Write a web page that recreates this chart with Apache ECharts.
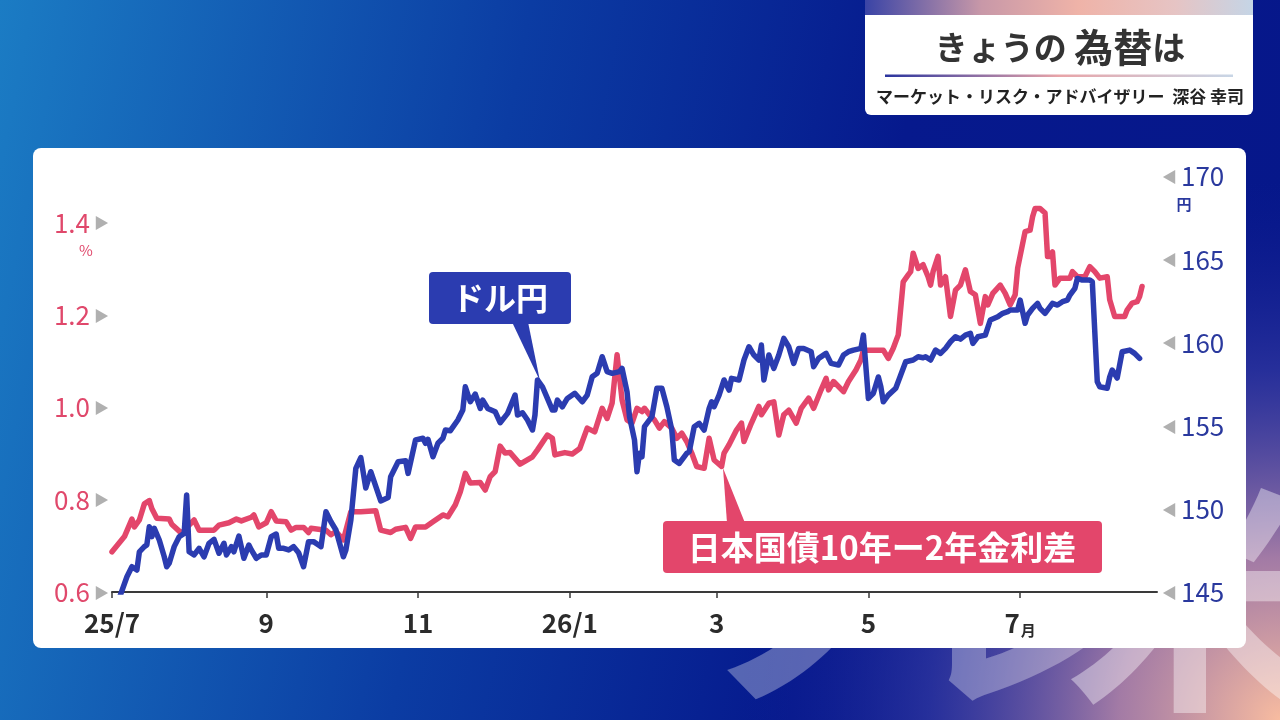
<!DOCTYPE html>
<html><head><meta charset="utf-8">
<script src="https://cdn.jsdelivr.net/npm/echarts@6/dist/echarts.min.js"></script>
<style>html,body{margin:0;padding:0;width:1280px;height:720px;overflow:hidden;background:#0a2a9a}#c{width:1280px;height:720px}</style>
</head><body><div id="c"></div>
<script>
// x = days since 2025-07-01
const xTickDays = [0, 62, 123, 184, 243, 304, 365];
const xTickLabels = ['25/7', '9', '11', '26/1', '3', '5', '7月'];
const spreadTicks = [0.6, 0.8, 1.0, 1.2, 1.4];
const yenMin = 145, yenMax = 170, yenStep = 5;

// 日本国債10年−2年金利差 (%): [day, value]
const spreadData = [
[0,0.687],[5,0.720],[8,0.758],[9,0.741],[11,0.756],[13,0.791],[15,0.798],[16,0.781],[18,0.760],[23,0.758],
[24,0.747],[28,0.727],[31,0.745],[33,0.756],[35,0.734],[41,0.734],[43,0.745],[47,0.750],[50,0.758],[52,0.754],
[56,0.762],[57,0.767],[59,0.741],[62,0.750],[64,0.774],[66,0.754],[70,0.752],[72,0.734],[74,0.740],[77,0.740],
[79,0.729],[80,0.738],[86,0.734],[88,0.724],[90,0.731],[93,0.713],[96,0.774],[100,0.774],[106,0.776],[108,0.734],
[112,0.729],[114,0.736],[118,0.740],[120,0.716],[122,0.741],[126,0.741],[129,0.752],[133,0.767],[135,0.763],[138,0.789],
[140,0.817],[142,0.857],[144,0.836],[148,0.837],[150,0.821],[152,0.850],[154,0.861],[156,0.916],[158,0.901],[160,0.902],
[164,0.877],[169,0.893],[171,0.908],[175,0.940],[177,0.933],[178,0.897],[182,0.902],[185,0.899],[188,0.911],[191,0.955],
[194,0.947],[197,0.998],[199,0.976],[201,1.009],[203,1.114],[205,1.016],[207,0.973],[209,0.966],[211,0.998],[213,0.991],
[214,0.998],[216,0.984],[218,0.973],[220,0.955],[222,0.969],[225,0.955],[227,0.933],[229,0.944],[231,0.926],[233,0.901],
[235,0.872],[238,0.868],[240,0.933],[242,0.886],[245,0.872],[246,0.901],[248,0.919],[251,0.951],[253,0.966],[254,0.926],
[257,0.966],[260,1.002],[261,0.984],[264,1.009],[266,1.012],[268,0.940],[270,0.984],[272,0.994],[275,0.966],[277,0.998],
[280,1.020],[282,0.998],[285,1.038],[287,1.063],[288,1.038],[290,1.056],[294,1.034],[296,1.056],[299,1.081],[301,1.103],
[302,1.124],[310,1.124],[312,1.106],[314,1.128],[316,1.157],[318,1.272],[320,1.287],[321,1.294],[322,1.334],[324,1.301],
[326,1.309],[328,1.283],[329,1.265],[330,1.294],[332,1.327],[333,1.265],[335,1.283],[337,1.197],[339,1.254],[341,1.265],
[343,1.298],[345,1.251],[347,1.244],[349,1.182],[351,1.240],[352,1.222],[354,1.247],[357,1.265],[359,1.247],[361,1.222],
[363,1.244],[364,1.302],[367,1.381],[369,1.384],[370,1.413],[371,1.431],[373,1.431],[375,1.421],[376,1.327],[377,1.327],
[378,1.337],[379,1.265],[381,1.280],[385,1.280],[386,1.294],[388,1.283],[391,1.283],[393,1.305],[395,1.294],[397,1.280],
[400,1.283],[401,1.233],[403,1.197],[407,1.197],[408,1.211],[410,1.226],[412,1.229],[413,1.240],[414,1.262]
];

// ドル円 (円): [day, value]
const usdjpyData = [
[0,143.4],[6,145.92],[8,146.52],[10,146.32],[11,147.42],[13,147.73],[14,147.83],[15,148.93],[16,148.33],[17,148.83],
[19,148.13],[21,147.12],[22,146.52],[23,146.73],[25,147.73],[27,148.33],[29,148.53],[30,150.84],[31,147.42],[33,147.23],
[35,147.63],[37,147.12],[39,147.93],[41,148.17],[43,147.33],[45,147.93],[46,147.23],[48,147.73],[49,147.42],[51,148.37],
[53,147.03],[55,147.83],[56,147.53],[58,147.03],[60,147.23],[62,147.23],[64,148.33],[66,148.49],[67,147.63],[69,147.63],
[71,147.53],[73,147.73],[75,147.36],[77,146.52],[79,148.03],[81,148.03],[83,147.83],[84,147.73],[86,149.83],[88,149.23],
[90,148.73],[93,147.12],[94,147.53],[96,149.33],[98,152.44],[100,153.09],[102,151.26],[104,152.24],[108,150.48],[111,150.69],
[112,151.94],[115,152.84],[118,152.90],[119,152.14],[122,154.15],[125,154.25],[126,153.95],[127,154.19],[129,153.14],[131,153.95],
[133,154.25],[134,154.75],[136,154.71],[139,155.35],[141,155.95],[142,157.35],[144,156.45],[146,156.91],[148,156.05],[149,156.55],
[151,156.05],[154,155.85],[156,155.19],[159,155.75],[162,156.85],[163,155.65],[165,155.79],[167,155.35],[169,154.75],[170,155.65],
[171,157.76],[173,157.35],[175,156.65],[177,155.95],[178,155.95],[179,156.55],[181,156.15],[183,156.65],[186,156.96],[189,156.45],
[191,156.85],[193,157.95],[195,158.16],[197,159.16],[199,158.26],[201,158.16],[204,158.26],[205,158.46],[207,157.05],[208,155.55],
[210,154.15],[211,152.24],[212,153.35],[213,153.14],[214,154.95],[217,155.55],[219,157.26],[221,157.26],[223,156.15],[225,154.75],
[226,152.94],[228,152.74],[231,153.35],[232,153.44],[234,154.95],[236,155.15],[238,154.75],[240,156.05],[241,156.45],[242,156.15],
[244,156.85],[246,157.76],[248,157.15],[249,157.86],[252,157.76],[254,158.96],[256,159.76],[258,159.26],[260,158.96],[261,159.86],
[262,157.76],[264,159.26],[266,158.46],[268,159.26],[270,160.26],[272,159.76],[274,158.76],[276,159.66],[278,159.66],[281,159.46],
[282,158.56],[284,159.06],[287,159.36],[289,158.76],[292,158.66],[294,159.26],[296,159.46],[298,159.56],[301,159.66],[302,160.46],
[304,156.65],[306,156.96],[308,157.94],[309,157.35],[310,156.45],[312,156.85],[315,157.26],[317,158.06],[319,158.86],[322,158.96],
[324,159.16],[326,159.10],[327,159.16],[329,158.96],[331,159.56],[333,159.36],[335,159.66],[337,160.06],[339,160.36],[341,160.22],
[343,160.46],[345,160.57],[346,159.96],[348,160.36],[351,160.46],[353,161.37],[356,161.56],[358,161.77],[360,161.87],[361,161.97],
[364,161.97],[365,162.57],[367,161.17],[368,161.67],[370,162.07],[372,162.37],[373,162.07],[375,161.77],[378,162.37],[380,162.27],
[382,162.47],[384,162.57],[385,162.87],[387,163.27],[388,163.87],[390,163.77],[393,163.77],[394,163.67],[396,157.65],[397,157.35],
[400,157.26],[401,157.95],[402,158.36],[404,157.88],[406,159.46],[409,159.56],[411,159.36],[413,159.06]
];

const RED = '#e3466b';
const BLUE = '#2b3cb0';
const FONT = "'Noto Sans CJK JP','Noto Sans',sans-serif";

const chart = echarts.init(document.getElementById('c'), null, {renderer: 'canvas'});

const option = {
  animation: false,
  textStyle: {fontFamily: FONT},
  grid: {left: 112, right: 123, top: 176.6, bottom: 128, containLabel: false},
  xAxis: {
    type: 'value', min: 0, max: 420,
    axisLine: {show: true, lineStyle: {color: '#3a3a3a', width: 2}},
    axisTick: {show: true, customValues: xTickDays, length: 6, lineStyle: {color: '#3a3a3a', width: 1.5}},
    splitLine: {show: false},
    axisLabel: {
      customValues: xTickDays, margin: 14,
      formatter: function (v) {
        const i = xTickDays.indexOf(v);
        const s = i >= 0 ? xTickLabels[i] : '';
        if (s.endsWith('月')) return '{n|' + s.slice(0, -1) + '}{u|月}';
        return '{n|' + s + '}';
      },
      rich: {
        n: {fontSize: 26, fontWeight: 'bold', color: '#2b2b2b', fontFamily: FONT, lineHeight: 30, verticalAlign: 'bottom'},
        u: {fontSize: 15, fontWeight: 'bold', color: '#2b2b2b', fontFamily: FONT, lineHeight: 30, verticalAlign: 'bottom', padding: [0, 0, -2, 1]}
      }
    }
  },
  yAxis: [
    {
      type: 'value', min: 0.6, max: 1.5, position: 'left',
      axisLine: {show: false}, axisTick: {show: false}, splitLine: {show: false},
      axisLabel: {
        customValues: spreadTicks, margin: 3,
        formatter: function (v) { return '{v|' + v.toFixed(1) + '}{t|▶}'; },
        rich: {
          v: {fontSize: 26, color: '#e0486b', fontFamily: FONT},
          t: {fontSize: 15, color: '#b0b0b0', padding: [0, 0, 0, 4]}
        }
      }
    },
    {
      type: 'value', min: yenMin, max: yenMax, interval: yenStep, position: 'right',
      axisLine: {show: false}, axisTick: {show: false}, splitLine: {show: false},
      axisLabel: {
        margin: 5,
        formatter: function (v) { return '{t|◀}{v|' + v + '}'; },
        rich: {
          v: {fontSize: 26, color: '#2a399e', fontFamily: FONT},
          t: {fontSize: 15, color: '#b0b0b0', padding: [0, 4, 0, 0]}
        }
      }
    }
  ],
  series: [
    {
      name: '日本国債10年ー2年金利差', type: 'line', yAxisIndex: 0, data: spreadData,
      showSymbol: false, symbol: 'none', clip: true, z: 3,
      lineStyle: {color: RED, width: 5.5, join: 'round', cap: 'round'}
    },
    {
      name: 'ドル円', type: 'line', yAxisIndex: 1, data: usdjpyData,
      showSymbol: false, symbol: 'none', clip: true, z: 4,
      lineStyle: {color: BLUE, width: 5.5, join: 'round', cap: 'round'}
    }
  ],
  graphic: [
    // background
    {type: 'rect', z: -20, silent: true, shape: {x: 0, y: 0, width: 1280, height: 720},
     style: {fill: new echarts.graphic.LinearGradient(0, 0, 1, 0.35, [
       {offset: 0, color: '#1b7cc4'}, {offset: 0.4, color: '#0b3ca3'},
       {offset: 0.7, color: '#06198d'}, {offset: 1, color: '#06178a'}])}},
    {type: 'rect', z: -19, silent: true, shape: {x: 0, y: 0, width: 1280, height: 720},
     style: {fill: new echarts.graphic.RadialGradient(1, 1, 0.75, [
       {offset: 0, color: 'rgba(248,188,160,1)'}, {offset: 0.3, color: 'rgba(190,140,170,0.85)'},
       {offset: 0.65, color: 'rgba(70,70,170,0.5)'}, {offset: 1, color: 'rgba(20,30,150,0)'}])}},
    // watermark glyphs
    {type: 'text', z: -18, silent: true, style: {text: 'ノ', x: 700, y: 470, fontSize: 250, fontWeight: 'bold', fontFamily: FONT, fill: 'rgba(255,255,255,0.32)'}},
    {type: 'text', z: -18, silent: true, style: {text: 'レ', x: 900, y: 470, fontSize: 250, fontWeight: 'bold', fontFamily: FONT, fill: 'rgba(255,255,255,0.32)'}},
    {type: 'text', z: -18, silent: true, style: {text: '米', x: 1065, y: 470, fontSize: 250, fontWeight: 'bold', fontFamily: FONT, fill: 'rgba(255,255,255,0.4)'}},
    // white panel
    {type: 'rect', z: -10, silent: true, shape: {x: 33, y: 148, width: 1213, height: 500, r: 8}, style: {fill: '#ffffff'}},
    // axis unit labels
    {type: 'text', z: 5, silent: true, style: {text: '%', x: 86, y: 250, align: 'center', verticalAlign: 'middle', fontSize: 15, fontFamily: FONT, fill: '#e0486b'}},
    {type: 'text', z: 5, silent: true, style: {text: '円', x: 1184, y: 204, align: 'center', verticalAlign: 'middle', fontSize: 15, fontWeight: 'bold', fontFamily: FONT, fill: '#2a399e'}},
    // ドル円 callout
    {type: 'polygon', z: 10, silent: true, shape: {points: [[512, 322], [528, 322], [540, 381]]}, style: {fill: BLUE}},
    {type: 'rect', z: 10, silent: true, shape: {x: 429, y: 272, width: 142, height: 52, r: 4}, style: {fill: BLUE}},
    {type: 'text', z: 11, silent: true, style: {text: 'ドル円', x: 500, y: 298, align: 'center', verticalAlign: 'middle', fontSize: 32, fontWeight: 'bold', fontFamily: FONT, fill: '#ffffff'}},
    // spread callout
    {type: 'polygon', z: 10, silent: true, shape: {points: [[727, 523], [745, 523], [723, 468]]}, style: {fill: RED}},
    {type: 'rect', z: 10, silent: true, shape: {x: 663, y: 521, width: 439, height: 52, r: 4}, style: {fill: RED}},
    {type: 'text', z: 11, silent: true, style: {text: '日本国債10年ー2年金利差', x: 882, y: 547, align: 'center', verticalAlign: 'middle', fontSize: 33, fontWeight: 'bold', fontFamily: FONT, fill: '#ffffff'}},
    // title box
    {type: 'rect', z: 10, silent: true, shape: {x: 865, y: -6, width: 388, height: 121, r: 6}, style: {fill: '#ffffff'}},
    {type: 'rect', z: 11, silent: true, shape: {x: 865, y: 0, width: 388, height: 15},
     style: {fill: new echarts.graphic.LinearGradient(0, 0, 1, 0, [
       {offset: 0, color: '#3a44a6'}, {offset: 0.3, color: '#c898a8'}, {offset: 0.55, color: '#efb3a8'},
       {offset: 0.8, color: '#e6c4c4'}, {offset: 1, color: '#c5d5e6'}])}},
    {type: 'text', z: 12, silent: true, style: {
      text: '{a|きょうの }{b|為替}{a|は}', x: 1060, y: 47, align: 'center', verticalAlign: 'middle',
      rich: {a: {fontSize: 33, fontWeight: 'bold', fill: '#333333', fontFamily: FONT},
             b: {fontSize: 39, fontWeight: 'bold', fill: '#333333', fontFamily: FONT}}}},
    {type: 'rect', z: 12, silent: true, shape: {x: 885, y: 74.5, width: 348, height: 2.5},
     style: {fill: new echarts.graphic.LinearGradient(0, 0, 1, 0, [
       {offset: 0, color: '#2a349e'}, {offset: 0.5, color: '#e8a4a8'}, {offset: 1, color: '#c8d6e6'}])}},
    {type: 'text', z: 12, silent: true, style: {text: 'マーケット・リスク・アドバイザリー  深谷 幸司', x: 1060, y: 97, align: 'center', verticalAlign: 'middle', fontSize: 17, fontWeight: 'bold', fontFamily: FONT, fill: '#222222'}}
  ]
};
chart.setOption(option);
</script>
</body></html>
